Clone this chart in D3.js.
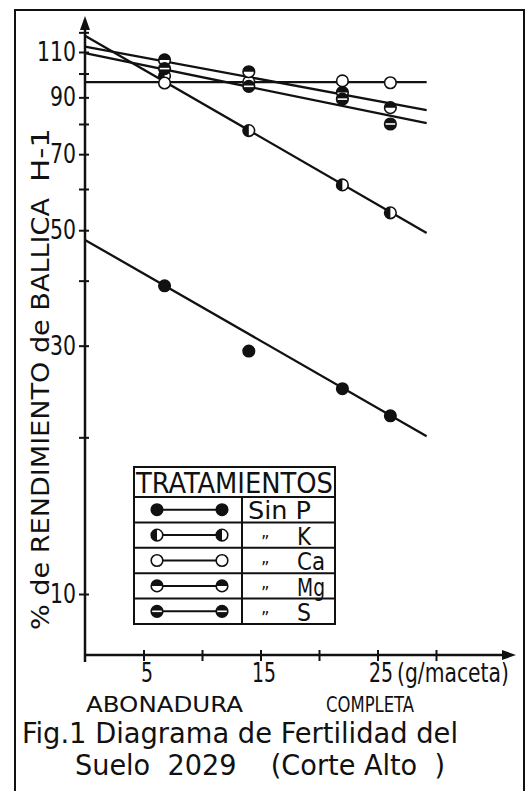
<!DOCTYPE html>
<html>
<head>
<meta charset="utf-8">
<script src="https://cdn.jsdelivr.net/npm/d3@7"></script>
<style>
  body { margin: 0; background: #fff; }
  text { font-family: "DejaVu Sans Condensed", "DejaVu Sans", sans-serif; fill: #111; }
</style>
</head>
<body>
<div id="chart"></div>
<script>
// dosis de abonadura completa (g/maceta)
var doses = [6.8, 14.0, 22.0, 26.1];
// % de rendimiento por tratamiento
var sinP = [39.1, 29.3, 24.8, 22.0];
var potasio = [99.0, 77.7, 61.1, 54.0];
var calcio = [95.9, 96.4, 96.8, 96.0];
var magnesio = [106.2, 100.8, 92.0, 86.0];
var azufre = [102.2, 94.5, 89.3, 80.0];
// rectas de ajuste: valor en x = 0 y en x = fitX[1]
var fitX = [0, 29.2];
var fitSinP = [47.9, 20.1];
var fitPotasio = [118.2, 49.4];
var fitCalcio = [96.3, 96.3];
var fitMagnesio = [112.6, 85.1];
var fitAzufre = [109.4, 80.3];

var yTicks = [10, 20, 30, 40, 50, 60, 70, 80, 90, 100, 110, 120];
var yLabels = [10, 30, 50, 70, 90, 110];
var xTicks = [5, 10, 15, 20, 25, 30];
var xLabels = [5, 15, 25];

var series = [
    {name: "Sin P", ditto: false, kind: "full", values: sinP, fit: fitSinP},
    {name: "K", ditto: true, kind: "halfLeft", values: potasio, fit: fitPotasio},
    {name: "Ca", ditto: true, kind: "open", values: calcio, fit: fitCalcio},
    {name: "Mg", ditto: true, kind: "halfTop", values: magnesio, fit: fitMagnesio},
    {name: "S", ditto: true, kind: "bar", values: azufre, fit: fitAzufre}
];

var width = 527, height = 791;

var svg = d3.select("#chart")
    .append("svg")
    .attr("width", width)
    .attr("height", height);

// marco de la figura
svg.append("rect")
    .attr("x", 15).attr("y", 10)
    .attr("width", 509).attr("height", 800)
    .attr("fill", "none")
    .attr("stroke", "#111")
    .attr("stroke-width", 2);

var x = d3.scaleLinear()
    .domain([0, 30])
    .range([85, 436]);

var y = d3.scaleLog()
    .domain([10, 110])
    .range([594, 52]);

// estrecha un texto a una anchura dada
function squeeze(sel, w) {
    sel.attr("textLength", w).attr("lengthAdjust", "spacingAndGlyphs");
}

// eje x
var xAxis = svg.append("g")
    .attr("transform", "translate(0,655)")
    .call(d3.axisBottom(x)
        .tickValues(xTicks)
        .tickSize(6)
        .tickFormat(d => xLabels.indexOf(d) >= 0 ? d : ""));
xAxis.select(".domain").remove();
xAxis.selectAll(".tick line").attr("y1", -5).attr("stroke", "#111").attr("stroke-width", 2);
xAxis.selectAll(".tick text")
    .filter(d => xLabels.indexOf(d) >= 0)
    .attr("dy", 0).attr("y", 27).attr("dx", 3)
    .style("font-size", "27px")
    .attr("textLength", d => String(d).length * 12)
    .attr("lengthAdjust", "spacingAndGlyphs");

svg.append("line")
    .attr("x1", 84).attr("x2", 510)
    .attr("y1", 655).attr("y2", 655)
    .attr("stroke", "#111").attr("stroke-width", 2.5);
svg.append("path")
    .attr("d", "M516,655 L502,650 L502,660 Z")
    .attr("fill", "#111");

// unidad: se estrecha con una escala horizontal
var unit = svg.append("text")
    .style("font-size", "27px")
    .text("(g/maceta)");
var unitW = unit.node().getComputedTextLength();
unit.attr("transform", "translate(397,682) scale(" + (112 / unitW) + ",1)");

// eje y
var yAxis = svg.append("g")
    .attr("transform", "translate(85,0)")
    .call(d3.axisLeft(y)
        .tickValues(yTicks)
        .tickSize(6)
        .tickFormat(d => yLabels.indexOf(d) >= 0 ? d : ""));
yAxis.select(".domain").remove();
yAxis.selectAll(".tick line").attr("x1", 4).attr("stroke", "#111").attr("stroke-width", 2);
yAxis.selectAll(".tick text")
    .filter(d => yLabels.indexOf(d) >= 0)
    .attr("x", -9)
    .style("font-size", "27px")
    .attr("textLength", d => String(d).length * 13)
    .attr("lengthAdjust", "spacingAndGlyphs");

svg.append("line")
    .attr("x1", 85).attr("x2", 85)
    .attr("y1", 662).attr("y2", 24)
    .attr("stroke", "#111").attr("stroke-width", 2.5);
svg.append("path")
    .attr("d", "M85,16 L80,30 L90,30 Z")
    .attr("fill", "#111");

// titulo del eje y
svg.append("text")
    .attr("transform", "translate(49,630) rotate(-90)")
    .style("font-size", "25px")
    .text("% de RENDIMIENTO de BALLICA")
    .call(squeeze, 432);
svg.append("text")
    .attr("transform", "translate(49,182) rotate(-90)")
    .style("font-size", "25px")
    .text("H-1")
    .call(squeeze, 54);

// rectas de ajuste
var plot = svg.append("g");

plot.selectAll(".fit")
    .data(series)
    .join("line")
    .attr("class", "fit")
    .attr("x1", x(fitX[0]))
    .attr("x2", x(fitX[1]))
    .attr("y1", d => y(d.fit[0]))
    .attr("y2", d => y(d.fit[1]))
    .attr("stroke", "#111")
    .attr("stroke-width", 2.3);

var r = 5.8;

function marker(g, kind, cx, cy) {
    if (kind == "full") {
        g.append("circle").attr("cx", cx).attr("cy", cy).attr("r", r)
            .attr("fill", "#111").attr("stroke", "#111").attr("stroke-width", 1.5);
        return;
    }
    g.append("circle").attr("cx", cx).attr("cy", cy).attr("r", r)
        .attr("fill", "#fff").attr("stroke", "#111").attr("stroke-width", 1.6);
    if (kind == "halfLeft") {
        g.append("path")
            .attr("d", "M" + cx + "," + (cy - r) + " A" + r + "," + r + " 0 0 0 " + cx + "," + (cy + r) + " Z")
            .attr("fill", "#111");
    }
    if (kind == "halfTop") {
        g.append("path")
            .attr("d", "M" + (cx - r) + "," + cy + " A" + r + "," + r + " 0 0 1 " + (cx + r) + "," + cy + " Z")
            .attr("fill", "#111");
    }
    if (kind == "bar") {
        g.append("circle").attr("cx", cx).attr("cy", cy).attr("r", r)
            .attr("fill", "#111");
        g.append("line")
            .attr("x1", cx - r + 1).attr("x2", cx + r - 1)
            .attr("y1", cy).attr("y2", cy)
            .attr("stroke", "#fff").attr("stroke-width", 1.6);
    }
}

series.forEach(function(s) {
    s.values.forEach(function(v, i) {
        marker(plot, s.kind, x(doses[i]), y(v));
    });
});

// leyenda
var legend = svg.append("g");
var lx0 = 134, lx1 = 335, ldiv = 242;
var headTop = 467, headBottom = 497, rowH = 25.4;

legend.append("rect")
    .attr("x", lx0).attr("y", headTop)
    .attr("width", lx1 - lx0).attr("height", headBottom - headTop + rowH * series.length)
    .attr("fill", "#fff")
    .attr("stroke", "#111").attr("stroke-width", 2);

legend.append("text")
    .attr("x", lx0 + 2).attr("y", headBottom - 4)
    .style("font-size", "29px")
    .text("TRATAMIENTOS")
    .call(squeeze, lx1 - lx0 - 4);

legend.append("line")
    .attr("x1", ldiv).attr("x2", ldiv)
    .attr("y1", headBottom).attr("y2", headBottom + rowH * series.length)
    .attr("stroke", "#111").attr("stroke-width", 2);

series.forEach(function(s, i) {
    var top = headBottom + rowH * i;
    var cy = top + rowH / 2;
    legend.append("line")
        .attr("x1", lx0).attr("x2", lx1)
        .attr("y1", top).attr("y2", top)
        .attr("stroke", "#111").attr("stroke-width", 2);
    legend.append("line")
        .attr("x1", 157).attr("x2", 222)
        .attr("y1", cy).attr("y2", cy)
        .attr("stroke", "#111").attr("stroke-width", 2);
    marker(legend, s.kind, 157, cy);
    marker(legend, s.kind, 222, cy);
    if (s.ditto) {
        legend.append("text")
            .attr("x", 261).attr("y", cy + 13)
            .style("font-size", "18px")
            .text("\u201D");
        legend.append("text")
            .attr("x", 297).attr("y", top + rowH - 3)
            .style("font-size", "24px")
            .text(s.name)
            .call(squeeze, s.name.length * 14);
    } else {
        legend.append("text")
            .attr("x", 248).attr("y", top + rowH - 3)
            .style("font-size", "24px")
            .text(s.name)
            .call(squeeze, 63);
    }
});

// textos inferiores
svg.append("text")
    .attr("x", 86).attr("y", 712)
    .style("font-size", "22px")
    .text("ABONADURA")
    .call(squeeze, 157);
svg.append("text")
    .attr("x", 326).attr("y", 712)
    .style("font-size", "22px")
    .text("COMPLETA")
    .call(squeeze, 88);
svg.append("text")
    .attr("x", 22).attr("y", 743)
    .style("font-size", "28px")
    .text("Fig.1 Diagrama de Fertilidad del")
    .call(squeeze, 436);
svg.append("text")
    .attr("x", 75).attr("y", 775)
    .attr("xml:space", "preserve")
    .style("font-size", "28px")
    .style("white-space", "pre")
    .text("Suelo  2029    (Corte Alto  )")
    .call(squeeze, 370);
</script>
</body>
</html>
